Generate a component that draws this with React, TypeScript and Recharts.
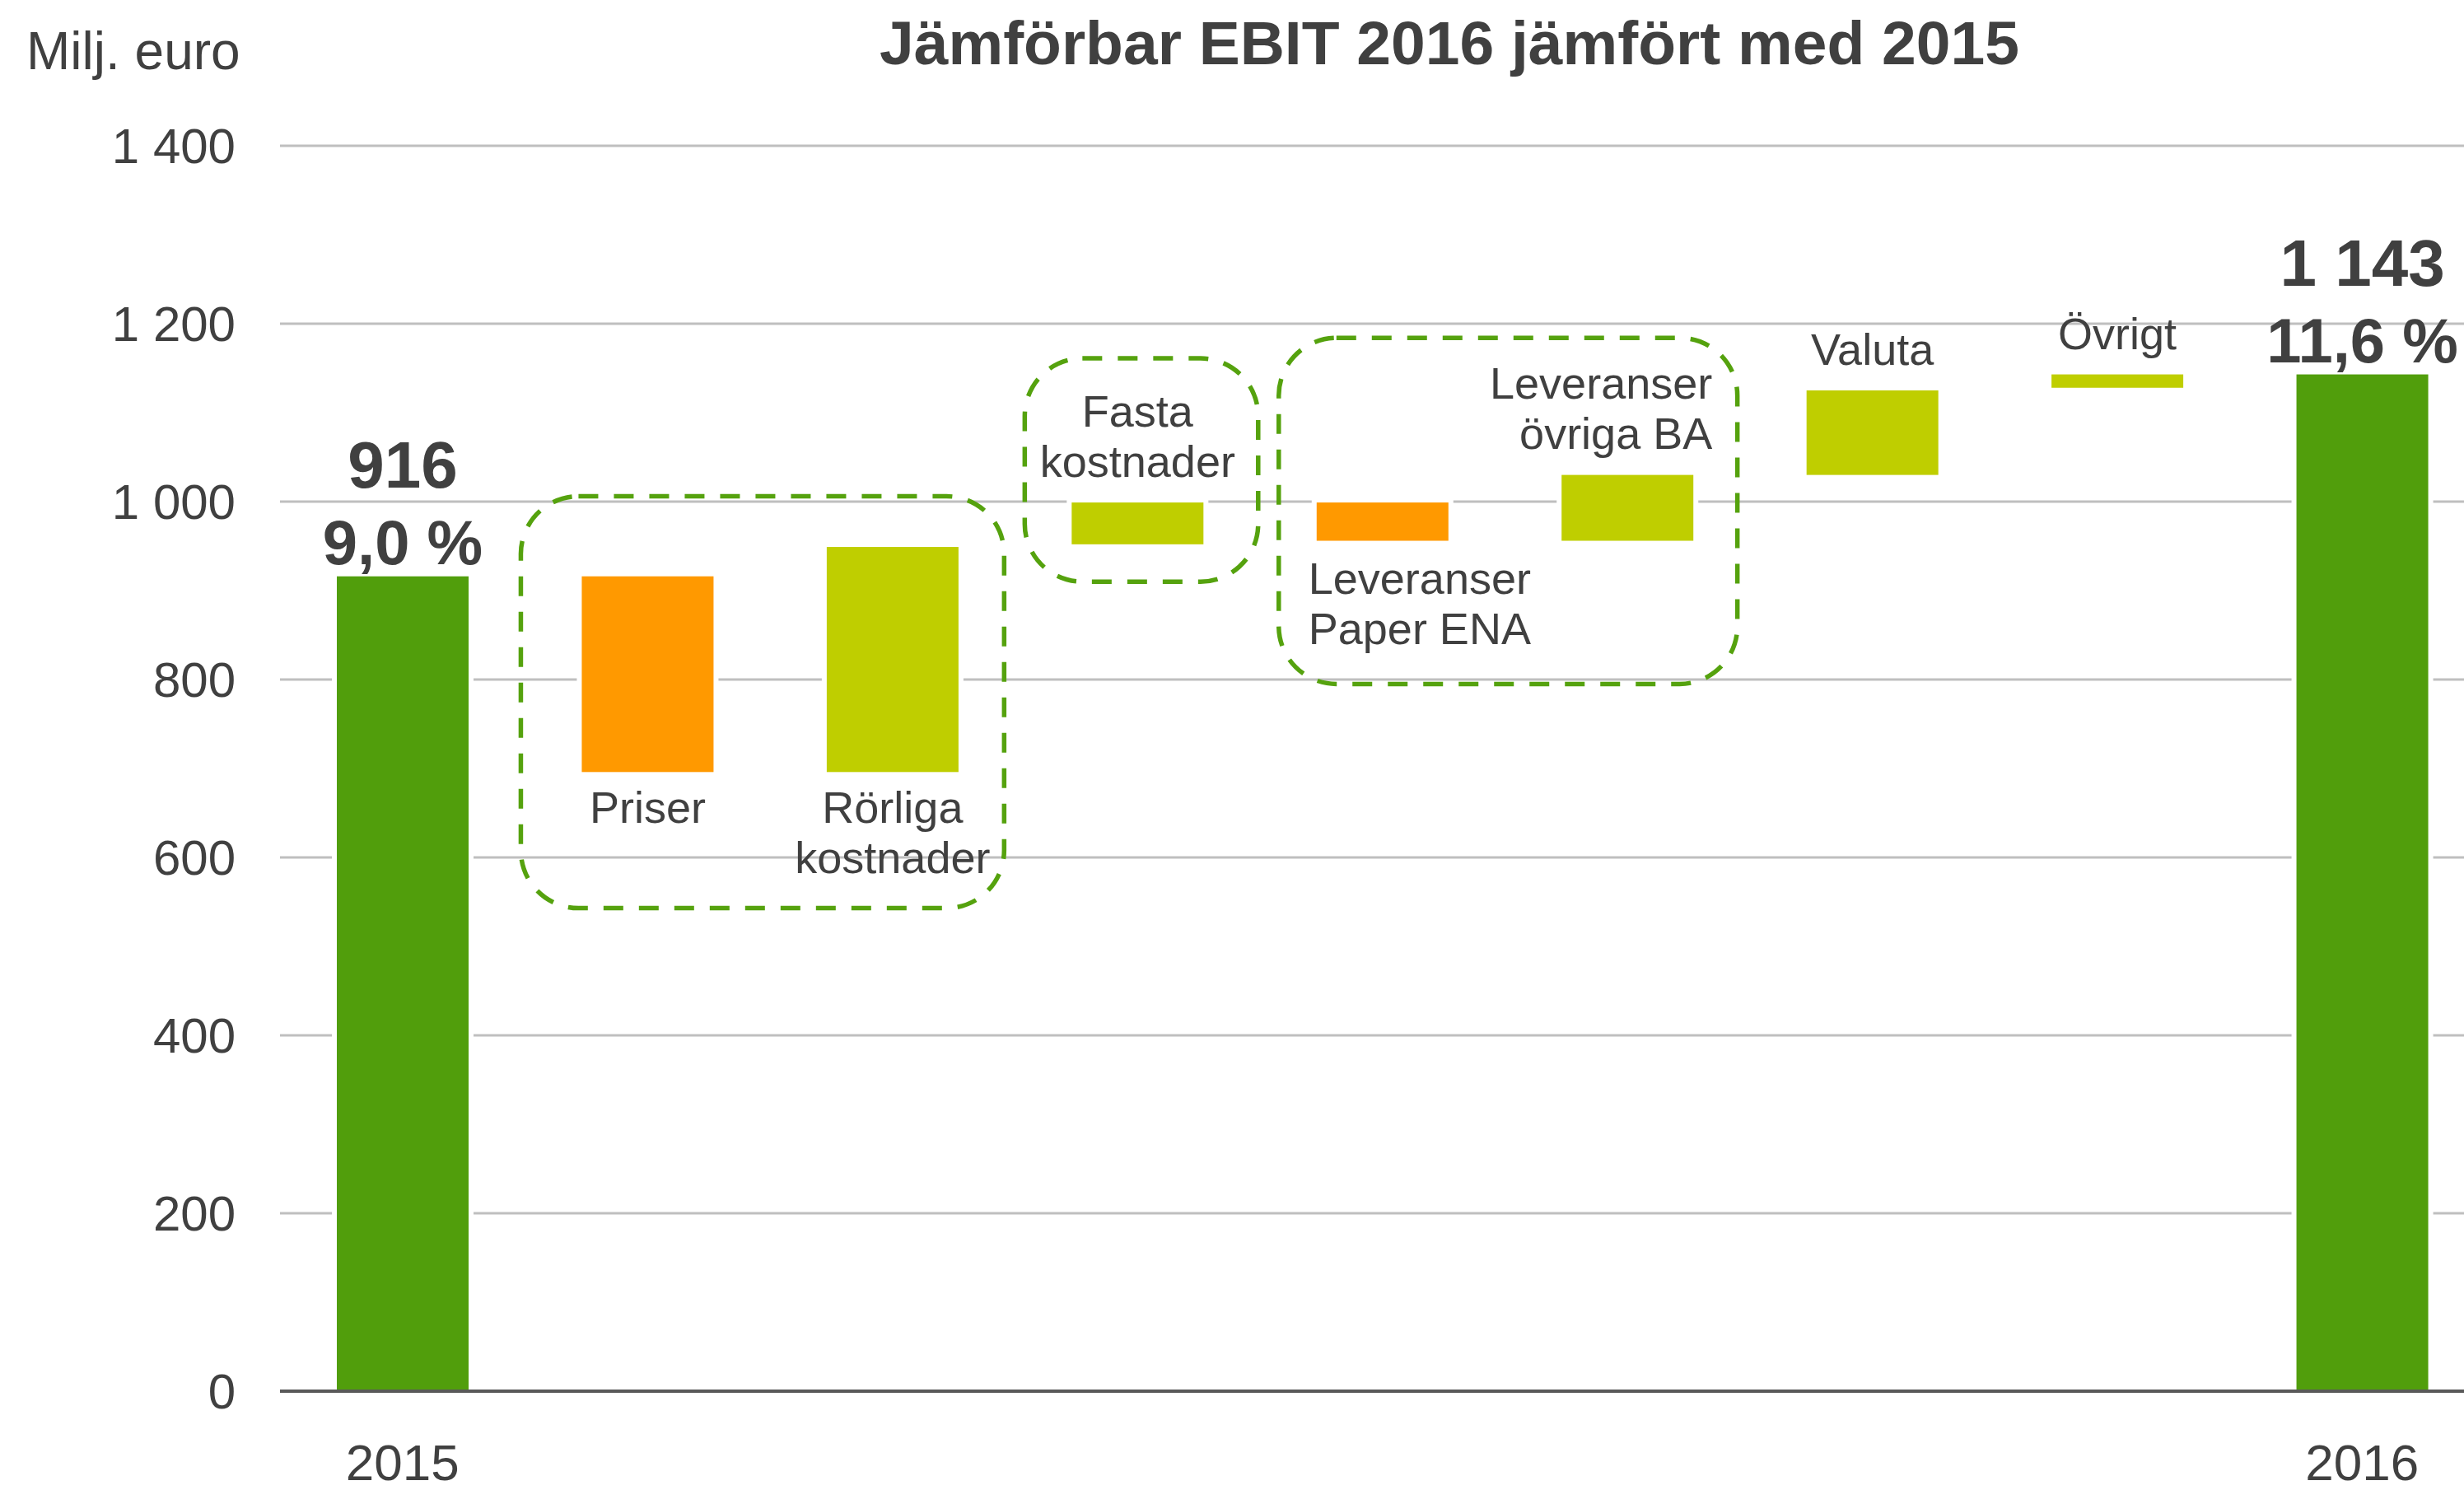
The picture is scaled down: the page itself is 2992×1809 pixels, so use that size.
import React from 'react';
import { BarChart, Bar, XAxis, YAxis, CartesianGrid, ReferenceArea, LabelList } from 'recharts';

const categories = ['2015', 'Priser', 'Rörliga kostnader', 'Fasta kostnader', 'Leveranser Paper ENA', 'Leveranser övriga BA', 'Valuta', 'Övrigt', '2016'];
const barLows = [0, 696, 696, 952, 956, 956, 1030, 1128, 0];
const barHighs = [916, 916, 949, 999, 999, 1030, 1125, 1143, 1143];
const barKinds = ['total', 'neg', 'pos', 'pos', 'neg', 'pos', 'pos', 'pos', 'total'];
const yTicks = [0, 200, 400, 600, 800, 1000, 1200, 1400];
const axisYears = ['2015', '2016'];
const totalTexts = ['916', '', '', '', '', '', '', '', '1 143'];
const marginTexts = ['9,0 %', '', '', '', '', '', '', '', '11,6 %'];
const labelLines = [[], ['Priser'], ['Rörliga', 'kostnader'], ['Fasta', 'kostnader'], ['Leveranser', 'Paper ENA'], ['Leveranser', 'övriga BA'], ['Valuta'], ['Övrigt'], []];
const labelSpots = ['', 'below', 'below', 'above', 'belowLeft', 'aboveRight', 'above', 'above', ''];

// dashed groups round the bridge steps
const groups = [
  { from: 'Priser', to: 'Rörliga kostnader', low: 543, high: 1006, padL: -5, padR: 13 },
  { from: 'Fasta kostnader', to: 'Fasta kostnader', low: 910, high: 1161, padL: 12, padR: 2 },
  { from: 'Leveranser Paper ENA', to: 'Leveranser övriga BA', low: 795, high: 1184, padL: 23, padR: 15 },
];

const COLORS: Record<string, string> = { total: '#519E0C', neg: '#FF9900', pos: '#BFCE00' };
const TEXT = '#404040';
const FONT = '"Liberation Sans", Arial, sans-serif';

const data = categories.map((name, i) => ({
  name,
  range: [barLows[i], barHighs[i]],
  low: barLows[i],
  kind: barKinds[i],
}));

const BarShape = (props: any) => {
  const { x, y, width, height, payload } = props;
  const top = Math.min(y, y + height);
  const h = Math.abs(height);
  const pad = 6;
  const bottomPad = payload.low === 0 ? 0 : pad;
  return (
    <g>
      <rect x={x - pad} y={top - pad} width={width + pad * 2} height={h + pad + bottomPad} fill="#fff" />
      <rect x={x} y={top} width={width} height={h} fill={COLORS[payload.kind]} />
    </g>
  );
};

const BarLabel = (props: any) => {
  const { x, y, width, height, index } = props;
  const top = Math.min(y, y + height);
  const bottom = Math.max(y, y + height);
  const cx = x + width / 2;
  const out: React.ReactNode[] = [];
  const lines = labelLines[index];
  const spot = labelSpots[index];
  const lh = 61;
  lines.forEach((t, k) => {
    let tx = cx;
    let ty = 0;
    let anchor = 'middle';
    if (spot === 'below') ty = bottom + 62 + k * lh;
    if (spot === 'above') ty = top - 31 - (lines.length - 1 - k) * lh;
    if (spot === 'belowLeft') { tx = x - 10; anchor = 'start'; ty = bottom + 64 + k * lh; }
    if (spot === 'aboveRight') { tx = x + width + 23; anchor = 'end'; ty = top - 32 - (lines.length - 1 - k) * lh; }
    out.push(
      <text key={'l' + k} x={tx} y={ty} textAnchor={anchor} fontSize={54} fill={TEXT} fontFamily={FONT}>{t}</text>
    );
  });
  if (totalTexts[index]) {
    out.push(
      <text key="v" x={cx} y={top - 108} textAnchor="middle" fontSize={80} fontWeight="bold" fill={TEXT} fontFamily={FONT}>{totalTexts[index]}</text>,
      <text key="p" x={cx} y={top - 15} textAnchor="middle" fontSize={76} fontWeight="bold" fill={TEXT} fontFamily={FONT}>{marginTexts[index]}</text>
    );
  }
  return <g>{out}</g>;
};

const GroupBox = (props: any, g: { padL: number; padR: number }) => {
  const { x, y, width, height } = props;
  return (
    <rect
      x={x + g.padL}
      y={y}
      width={width - g.padL - g.padR}
      height={height}
      rx={70}
      ry={70}
      fill="none"
      stroke="#55A20E"
      strokeWidth={5.5}
      strokeDasharray="24 19"
    />
  );
};

export default function App() {
  return (
    <div style={{ position: 'fixed', left: 0, top: 0, width: 2992, height: 1809, overflow: 'hidden', background: '#fff', fontFamily: FONT }}>
      <div style={{ position: 'absolute', left: 1760, top: 15, transform: 'translateX(-50%)', fontSize: 75, fontWeight: 'bold', color: TEXT, lineHeight: 1, whiteSpace: 'nowrap' }}>
        Jämförbar EBIT 2016 jämfört med 2015
      </div>
      <div style={{ position: 'absolute', left: 32, top: 30, fontSize: 64, color: TEXT, lineHeight: 1, whiteSpace: 'nowrap' }}>
        Milj. euro
      </div>
      <BarChart width={3017} height={1809} data={data} margin={{ top: 177, right: 0, bottom: 0, left: 0 }} barSize={160}>
        <CartesianGrid vertical={false} stroke="#BFBFBF" strokeWidth={3} />
        <XAxis
          dataKey="name"
          interval={0}
          height={120}
          tickLine={false}
          tickSize={0}
          tickMargin={64}
          stroke="#595959"
          strokeWidth={4}
          tick={{ fill: TEXT, fontSize: 62, fontFamily: FONT }}
          tickFormatter={(v: string) => (axisYears.includes(v) ? v : '')}
        />
        <YAxis
          domain={[0, 1400]}
          ticks={yTicks}
          width={340}
          axisLine={false}
          tickLine={false}
          tickSize={0}
          tickMargin={54}
          tick={{ fill: TEXT, fontSize: 60, fontFamily: FONT }}
          tickFormatter={(v: number) => v.toLocaleString('sv-SE').replace(/\s/g, ' ')}
        />
        <Bar dataKey="range" isAnimationActive={false} shape={BarShape}>
          <LabelList dataKey="range" content={BarLabel} />
        </Bar>
        {groups.map((g, i) => (
          <ReferenceArea
            key={i}
            x1={g.from}
            x2={g.to}
            y1={g.low}
            y2={g.high}
            ifOverflow="visible"
            shape={(p: any) => GroupBox(p, g)}
          />
        ))}
      </BarChart>
    </div>
  );
}
